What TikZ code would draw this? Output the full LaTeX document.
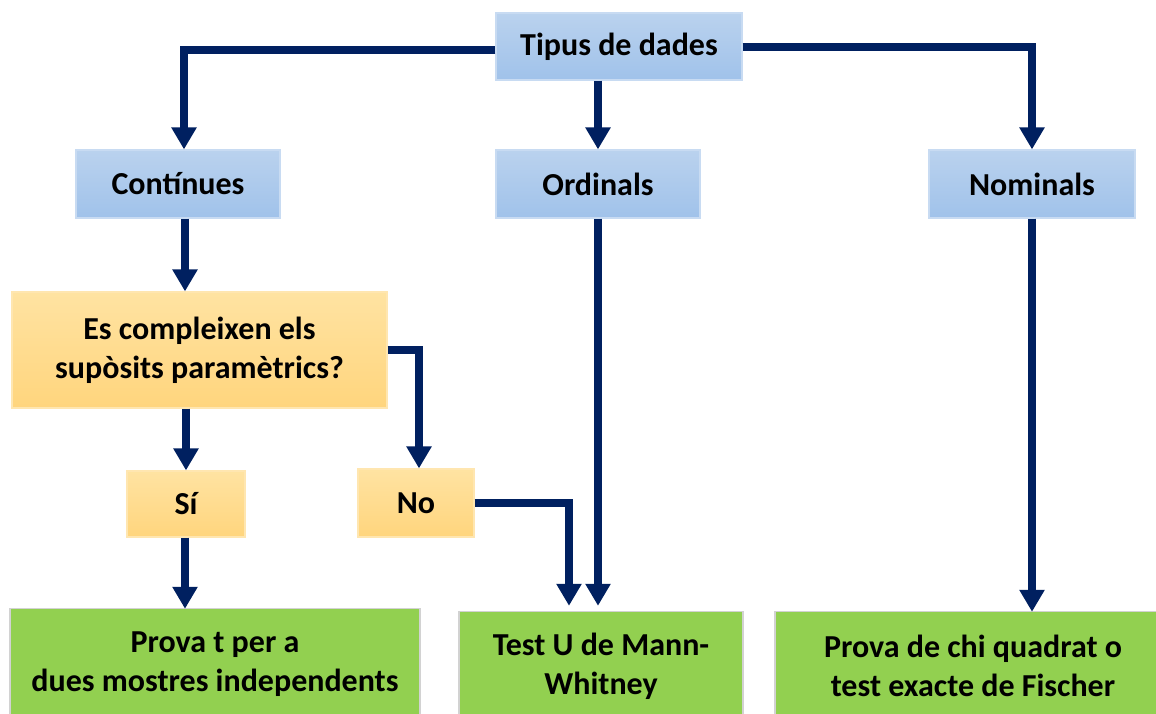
\documentclass[tikz,border=0pt]{standalone}
\usepackage{fontspec}
\setmainfont{Carlito}
\usetikzlibrary{arrows.meta,shadows}
\definecolor{navy}{HTML}{002060}
\definecolor{bluetop}{HTML}{BAD2EE}
\definecolor{bluebot}{HTML}{A0C2EA}
\definecolor{blueline}{HTML}{C8DBF2}
\definecolor{orgtop}{HTML}{FFE3A2}
\definecolor{orgbot}{HTML}{FFD57D}
\definecolor{orgline}{HTML}{FFE6B0}
\definecolor{grn}{HTML}{92D050}
\tikzset{
  base/.style={rectangle, inner sep=0pt, align=center, font=\fontsize{32}{39}\selectfont\bfseries},
  bluebox/.style={base, top color=bluetop, bottom color=bluebot, draw=blueline, line width=1.2pt},
  orgbox/.style={base, top color=orgtop, bottom color=orgbot, draw=orgline, line width=1.2pt},
  grnbox/.style={base, fill=grn, drop shadow={shadow xshift=0pt, shadow yshift=0pt, opacity=0.35, shadow scale=1.012}},
  arr/.style={draw=navy, line width=7.5pt, -{Triangle[width=24pt,length=22pt]}, color=navy}
}
\begin{document}
\begin{tikzpicture}[x=1pt,y=-1pt]
\useasboundingbox (0,0) rectangle (1156,713);
\clip (0,0) rectangle (1156,713);
\fill[white] (0,0) rectangle (1156,713);
% nodes
\node[bluebox, minimum width=246pt, minimum height=67pt] (tipus) at (619,46.5) {Tipus de dades};
\node[bluebox, minimum width=204pt, minimum height=68pt] (cont) at (178,184) {Contínues};
\node[bluebox, minimum width=204pt, minimum height=68pt] (ord) at (598,184) {Ordinals};
\node[bluebox, minimum width=206pt, minimum height=68pt] (nom) at (1032,184) {Nominals};
\node[orgbox, minimum width=375pt, minimum height=116pt] (es) at (199.5,350) {Es compleixen els\\supòsits paramètrics?};
\node[orgbox, minimum width=118pt, minimum height=66pt] (si) at (186,504) {Sí};
\node[orgbox, minimum width=116pt, minimum height=68pt] (no) at (416,503) {No};
\node[grnbox, minimum width=408pt, minimum height=111pt] (provat) at (215,664.5) {Prova t per a\\dues mostres independents};
\node[grnbox, minimum width=282pt, minimum height=108pt] (testu) at (601,666) {Test U de Mann-\\Whitney};
\node[grnbox, minimum width=394pt, minimum height=108pt] (chi) at (973,666) {Prova de chi quadrat o\\test exacte de Fischer};
% connectors
\draw[arr] ([yshift=-3.5pt]tipus.west) -| ([xshift=6pt]cont.north);
\draw[arr] ([yshift=-0.5pt]tipus.east) -| (nom.north);
\draw[arr] (ord.north |- tipus.south) -- (ord.north);
\draw[arr] ([xshift=7pt]cont.south) -- ([xshift=7pt]cont.south |- es.north);
\draw[arr] (si.north |- es.south) -- (si.north);
\draw[arr] (es.east) -| ([xshift=3pt]no.north);
\draw[arr] ([xshift=-1pt]si.south) -- ([xshift=-1pt]si.south |- provat.north);
\draw[arr, shorten >=6pt] (no.east) -| ([xshift=-32pt]testu.north);
\draw[arr, shorten >=6pt] (ord.south) -- (ord.south |- testu.north);
\draw[arr] (nom.south) -- (nom.south |- chi.north);
\end{tikzpicture}
\end{document}
